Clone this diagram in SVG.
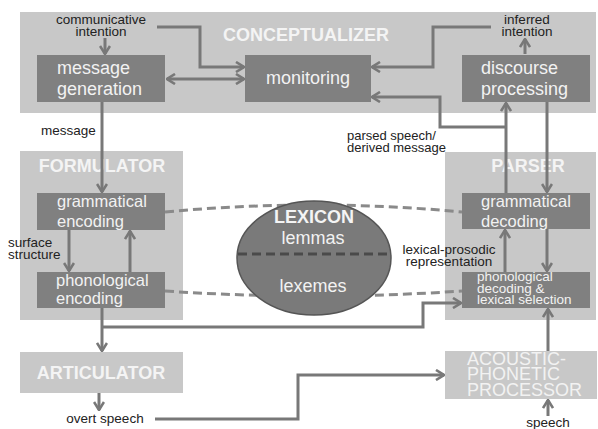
<svg xmlns="http://www.w3.org/2000/svg" width="598" height="429" viewBox="0 0 598 429">
<defs>
<marker id="ah" viewBox="0 0 10 12" refX="9" refY="6" markerWidth="10" markerHeight="12" markerUnits="userSpaceOnUse" orient="auto-start-reverse">
<path d="M1,1 L9,6 L1,11" fill="none" stroke="#787878" stroke-width="2.6"/>
</marker>
</defs>
<style>
.outer{fill:#c8c8c8}
.inner{fill:#808080}
.hdr{font-family:"Liberation Sans",Arial,sans-serif;font-weight:bold;font-size:18px;fill:#f4f4f4}
.btxt{font-family:"Liberation Sans",Arial,sans-serif;font-size:18px;fill:#f2f2f2}
.btxt2{font-family:"Liberation Sans",Arial,sans-serif;font-size:16.5px;fill:#f2f2f2}
.btxt3{font-family:"Liberation Sans",Arial,sans-serif;font-size:13.5px;fill:#f2f2f2}
.lbl{font-family:"Liberation Sans",Arial,sans-serif;font-size:13.5px;fill:#222}
.con{fill:none;stroke:#787878;stroke-width:3;marker-end:url(#ah)}
.dash{fill:none;stroke:#8a8a8a;stroke-width:3;stroke-dasharray:9,5}
</style>

<g id="conceptualizer">
<rect class="outer" x="20" y="12" width="576" height="101"/>
<text class="hdr" x="306" y="41" text-anchor="middle">CONCEPTUALIZER</text>
</g>
<g id="formulator">
<rect class="outer" x="20" y="151" width="163" height="169"/>
<text class="hdr" x="102" y="172" text-anchor="middle">FORMULATOR</text>
</g>
<g id="parser">
<rect class="outer" x="445" y="152" width="151" height="168"/>
<text class="hdr" x="528" y="172" text-anchor="middle">PARSER</text>
</g>
<g id="articulator">
<rect class="outer" x="20" y="352" width="163" height="41"/>
<text class="hdr" x="101" y="379" text-anchor="middle">ARTICULATOR</text>
</g>
<g id="acoustic-phonetic-processor">
<rect class="outer" x="445" y="351" width="152" height="48"/>
<text class="btxt" x="467" y="365">ACOUSTIC-</text>
<text class="btxt" x="467" y="380">PHONETIC</text>
<text class="btxt" x="467" y="396">PROCESSOR</text>
</g>

<g id="message-generation">
<rect class="inner" x="37" y="55" width="128" height="47"/>
<text class="btxt" x="57" y="74">message</text>
<text class="btxt" x="57" y="95">generation</text>
</g>
<g id="monitoring">
<rect class="inner" x="245" y="55" width="126" height="47"/>
<text class="btxt" x="308" y="84" text-anchor="middle">monitoring</text>
</g>
<g id="discourse-processing">
<rect class="inner" x="462" y="55" width="128" height="47"/>
<text class="btxt" x="481" y="74">discourse</text>
<text class="btxt" x="481" y="95">processing</text>
</g>
<g id="grammatical-encoding">
<rect class="inner" x="37" y="193" width="128" height="37"/>
<text class="btxt2" x="57" y="207">grammatical</text>
<text class="btxt2" x="57" y="227">encoding</text>
</g>
<g id="phonological-encoding">
<rect class="inner" x="37" y="272" width="128" height="36"/>
<text class="btxt2" x="56" y="286">phonological</text>
<text class="btxt2" x="56" y="304">encoding</text>
</g>
<g id="grammatical-decoding">
<rect class="inner" x="462" y="193" width="128" height="36"/>
<text class="btxt2" x="481" y="207">grammatical</text>
<text class="btxt2" x="481" y="227">decoding</text>
</g>
<g id="phonological-decoding">
<rect class="inner" x="462" y="272" width="128" height="36"/>
<text class="btxt3" x="477" y="281">phonological</text>
<text class="btxt3" x="477" y="292.5">decoding &amp;</text>
<text class="btxt3" x="477" y="304">lexical selection</text>
</g>

<g id="connectors">
<path class="dash" d="M165,212 Q314,198 462,212"/>
<path class="dash" d="M165,291 Q314,301 462,291"/>
<path class="con" d="M105,38 V54"/>
<path class="con" d="M157,27 H200 V67 H244"/>
<path class="con" d="M167,79 H244" style="marker-start:url(#ah)"/>
<path class="con" d="M525,54 V39"/>
<path class="con" d="M491,27 H433 V67 H372"/>
<path class="con" d="M506,193 V103"/>
<path class="con" d="M506,127 H440 V97 H372"/>
<path class="con" d="M547,102 V192"/>
<path class="con" d="M102,102 V192"/>
<path class="con" d="M69,230 V271"/>
<path class="con" d="M130,272 V231"/>
<path class="con" d="M102,308 V351"/>
<path class="con" d="M102,327 H423 V303 H461"/>
<path class="con" d="M99,393 V410"/>
<path class="con" d="M155,419 H298 V375 H444"/>
<path class="con" d="M505,272 V230"/>
<path class="con" d="M547,229 V271"/>
<path class="con" d="M548,351 V309"/>
<path class="con" d="M548,416 V400"/>
</g>

<g id="lexicon">
<ellipse cx="314" cy="258" rx="77" ry="57" fill="#7a7a7a" stroke="#555" stroke-width="1.5"/>
<line x1="238" y1="254" x2="390" y2="254" stroke="#4a4a4a" stroke-width="3" stroke-dasharray="9,5"/>
<text class="hdr" x="314" y="223" text-anchor="middle">LEXICON</text>
<text class="btxt" x="313" y="244" text-anchor="middle">lemmas</text>
<text class="btxt" x="313" y="292" text-anchor="middle">lexemes</text>
</g>

<g id="labels">
<text class="lbl" x="101" y="24" text-anchor="middle">communicative</text>
<text class="lbl" x="101" y="36" text-anchor="middle">intention</text>
<text class="lbl" x="527" y="24" text-anchor="middle">inferred</text>
<text class="lbl" x="527" y="36" text-anchor="middle">intention</text>
<text class="lbl" x="41" y="135">message</text>
<text class="lbl" x="347" y="140" style="font-size:13px">parsed speech/</text>
<text class="lbl" x="347" y="152" style="font-size:13px">derived message</text>
<text class="lbl" x="8" y="247">surface</text>
<text class="lbl" x="8" y="259">structure</text>
<text class="lbl" x="449" y="254" text-anchor="middle">lexical-prosodic</text>
<text class="lbl" x="449" y="266" text-anchor="middle">representation</text>
<text class="lbl" x="105" y="423" text-anchor="middle">overt speech</text>
<text class="lbl" x="548" y="427" text-anchor="middle">speech</text>
</g>
</svg>
